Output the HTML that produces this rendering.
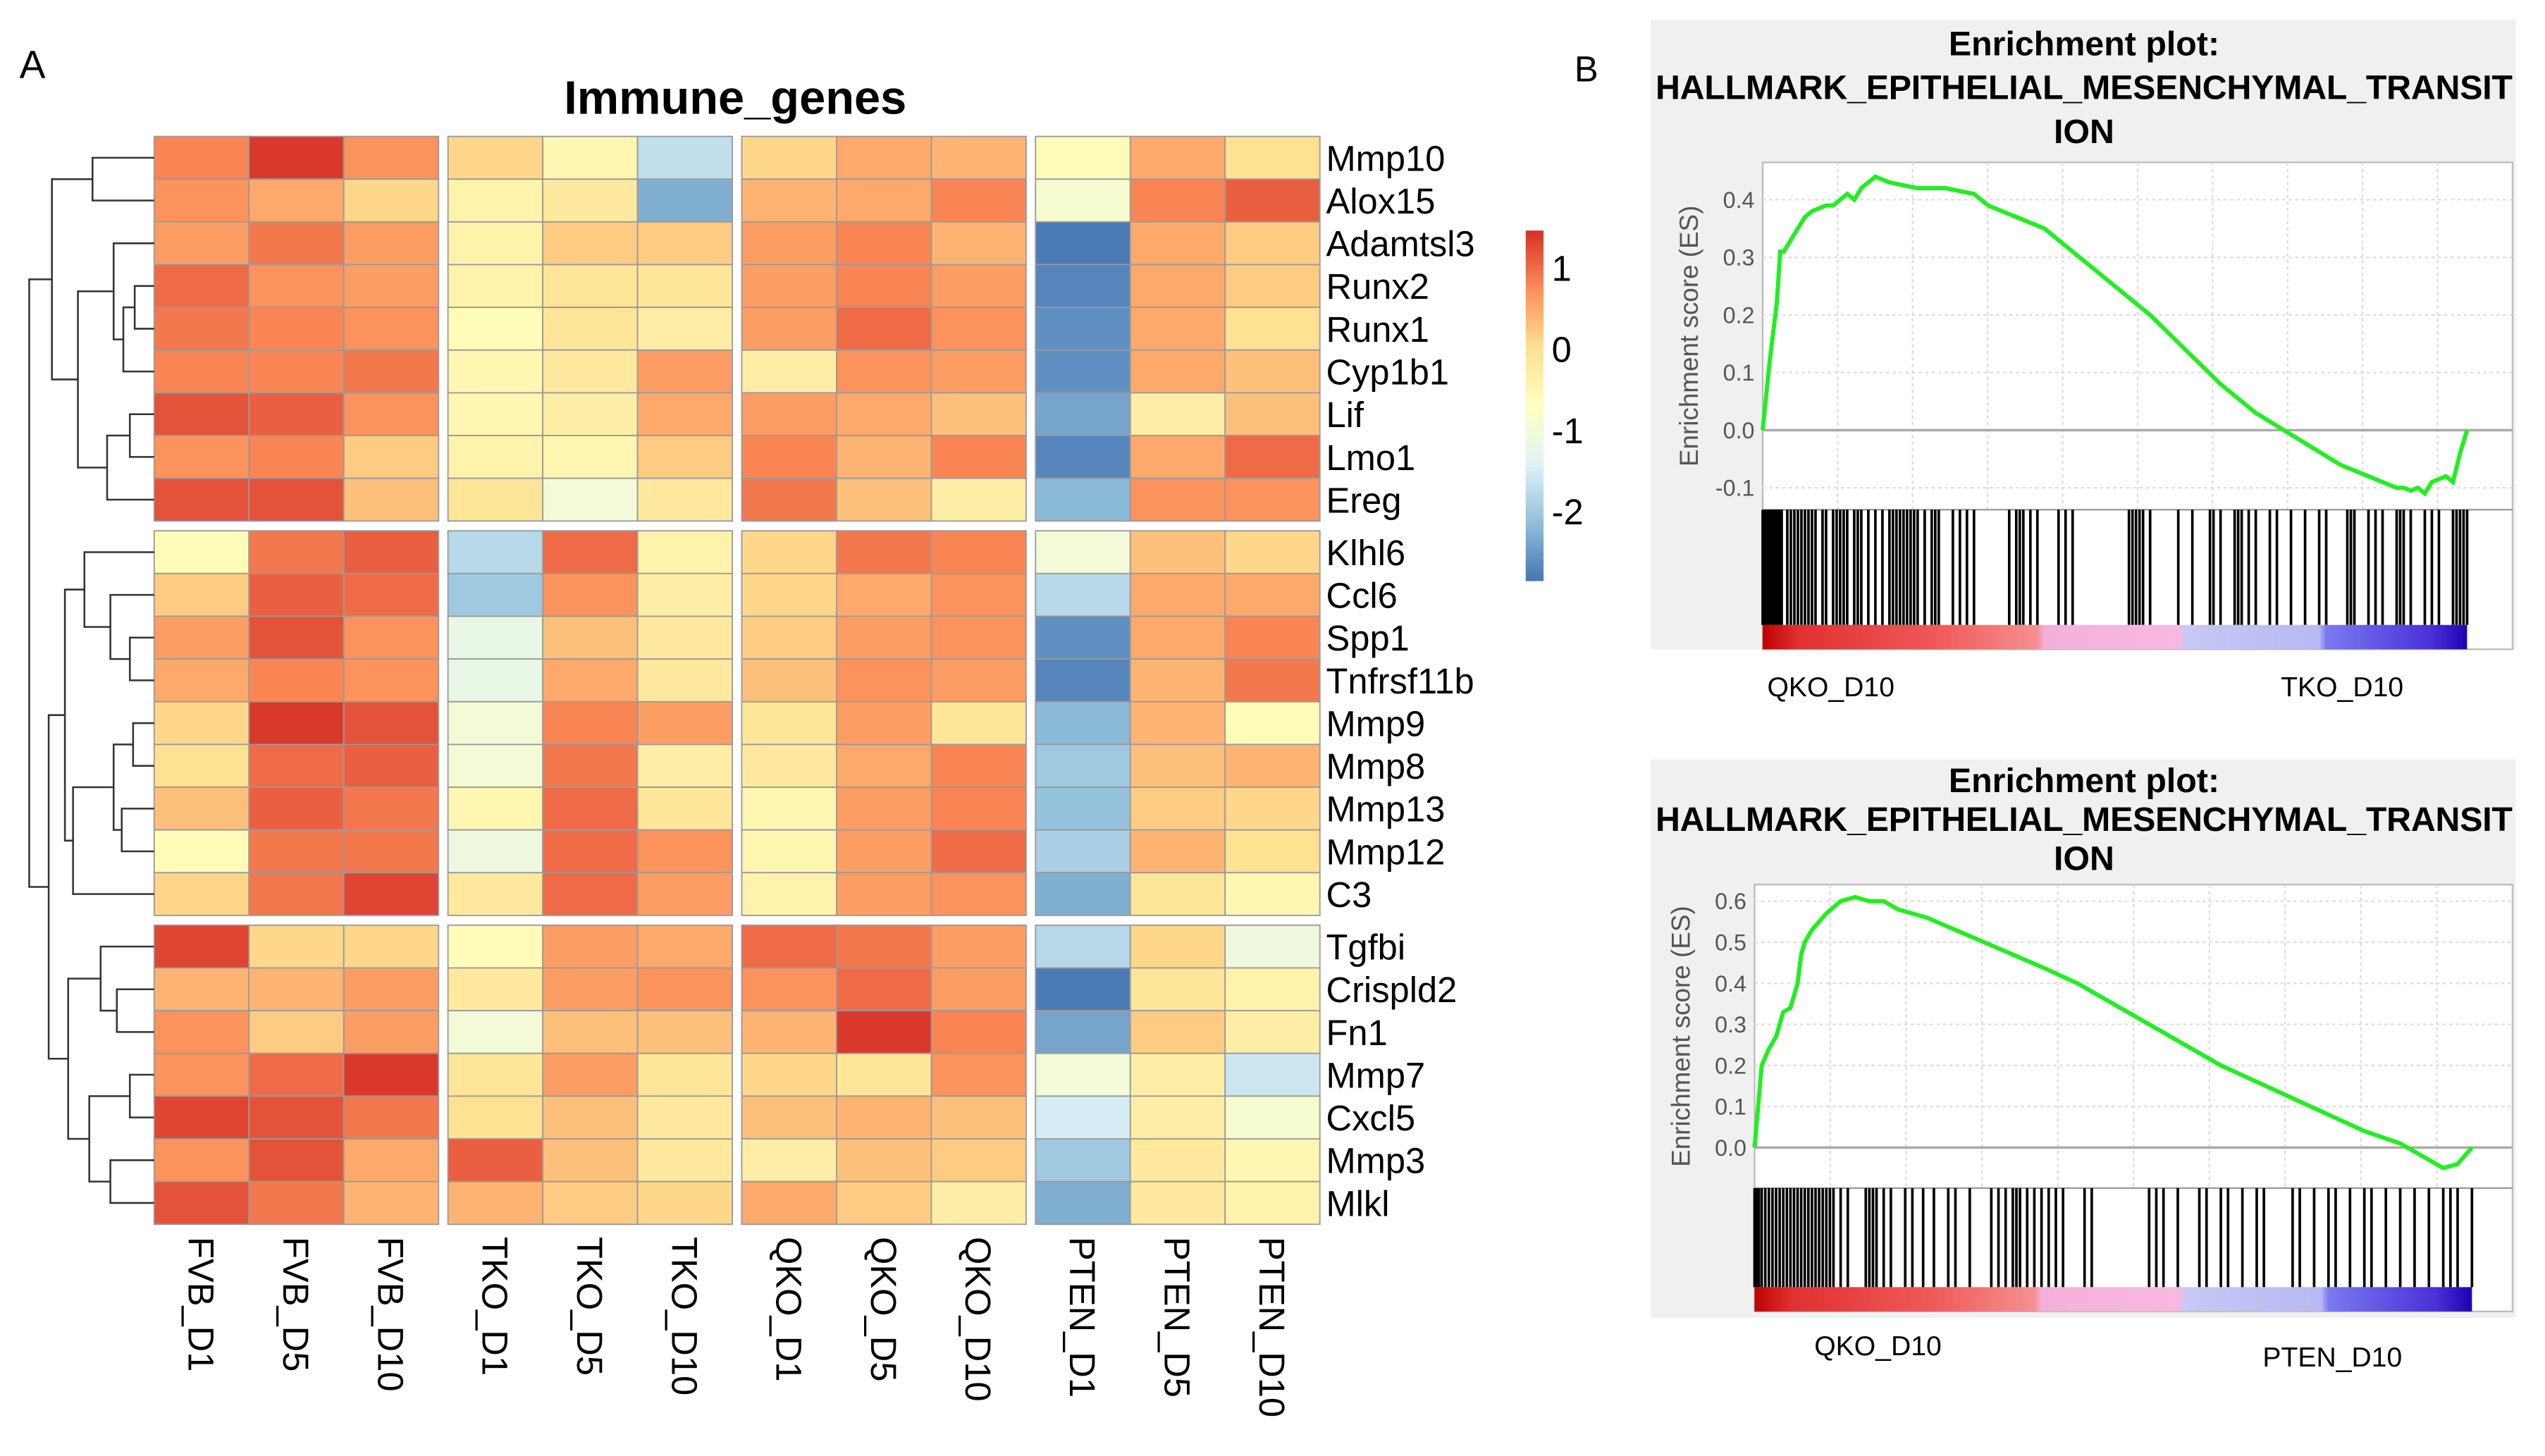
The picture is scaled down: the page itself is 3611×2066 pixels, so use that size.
<!DOCTYPE html>
<html><head><meta charset="utf-8"><style>
html,body{margin:0;padding:0;background:#fff}
svg{display:block;font-family:"Liberation Sans",sans-serif}
</style></head><body>
<svg id="fig" width="3611" height="2066" viewBox="0 0 1568 897" xmlns="http://www.w3.org/2000/svg">
<rect x="0" y="0" width="1568" height="897" fill="#fff"/>
<text x="12" y="48" font-size="24">A</text>
<text x="970" y="50" font-size="22">B</text>
<text x="453" y="70" font-size="29" font-weight="bold" text-anchor="middle">Immune_genes</text>
<g id="heat"></g>
<g id="dendro"></g>
<g id="legend"></g>
<g id="gsea1"></g>
<g id="gsea2"></g>
</svg>
<script>
const genes=["Mmp10","Alox15","Adamtsl3","Runx2","Runx1","Cyp1b1","Lif","Lmo1","Ereg","Klhl6","Ccl6","Spp1","Tnfrsf11b","Mmp9","Mmp8","Mmp13","Mmp12","C3","Tgfbi","Crispld2","Fn1","Mmp7","Cxcl5","Mmp3","Mlkl"];
const samples=["FVB_D1","FVB_D5","FVB_D10","TKO_D1","TKO_D5","TKO_D10","QKO_D1","QKO_D5","QKO_D10","PTEN_D1","PTEN_D5","PTEN_D10"];
const values=[
[0.8,1.4,0.7,0.1,-0.5,-1.7,0.1,0.5,0.4,-0.6,0.5,0.0],
[0.7,0.5,0.1,-0.4,-0.2,-2.3,0.4,0.5,0.8,-0.9,0.8,1.1],
[0.6,0.9,0.6,-0.4,0.2,0.2,0.6,0.8,0.4,-2.8,0.5,0.2],
[1.0,0.7,0.6,-0.4,-0.1,-0.1,0.6,0.8,0.6,-2.7,0.5,0.2],
[0.9,0.8,0.7,-0.6,-0.1,-0.3,0.6,1.0,0.7,-2.6,0.5,0.0],
[0.8,0.8,0.9,-0.5,-0.2,0.6,-0.3,0.7,0.6,-2.6,0.5,0.3],
[1.2,1.1,0.7,-0.5,-0.3,0.5,0.6,0.5,0.3,-2.4,-0.3,0.3],
[0.7,0.8,0.2,-0.4,-0.5,0.2,0.8,0.4,0.8,-2.7,0.5,1.0],
[1.2,1.2,0.3,-0.1,-1.0,-0.2,0.9,0.3,-0.3,-2.2,0.7,0.7],
[-0.6,0.9,1.1,-1.8,1.0,-0.4,0.1,0.9,0.8,-1.0,0.3,0.1],
[0.2,1.1,1.0,-2.0,0.7,-0.3,0.1,0.5,0.7,-1.8,0.5,0.5],
[0.6,1.2,0.7,-1.2,0.3,-0.2,0.2,0.6,0.7,-2.6,0.5,0.8],
[0.5,0.8,0.7,-1.2,0.5,-0.2,0.3,0.7,0.6,-2.7,0.4,0.9],
[0.1,1.4,1.2,-1.0,0.8,0.6,-0.1,0.6,-0.1,-2.2,0.4,-0.6],
[0.0,1.0,1.1,-1.0,0.9,-0.3,-0.2,0.5,0.8,-2.0,0.3,0.4],
[0.3,1.1,0.9,-0.5,1.0,-0.1,-0.5,0.6,0.8,-2.1,0.2,0.1],
[-0.6,0.9,0.9,-1.1,1.0,0.7,-0.5,0.6,1.0,-1.9,0.4,0.0],
[0.1,0.9,1.3,-0.2,1.0,0.6,-0.4,0.6,0.7,-2.3,-0.1,-0.5],
[1.3,0.1,0.1,-0.6,0.6,0.5,1.0,0.9,0.6,-1.8,0.1,-1.1],
[0.4,0.4,0.6,-0.2,0.6,0.7,0.7,1.0,0.6,-2.8,-0.1,-0.4],
[0.7,0.2,0.6,-1.0,0.3,0.3,0.4,1.4,0.8,-2.4,0.2,-0.3],
[0.7,1.0,1.4,-0.1,0.6,-0.1,0.1,-0.1,0.7,-1.0,-0.3,-1.6],
[1.3,1.2,0.9,0.0,0.3,-0.2,0.3,0.4,0.3,-1.5,-0.3,-0.9],
[0.7,1.2,0.5,1.1,0.3,-0.2,-0.3,0.3,0.2,-2.0,-0.2,-0.5],
[1.2,0.9,0.4,0.4,0.2,0.1,0.5,0.2,-0.3,-2.3,-0.2,-0.4]];
const legendTicks=[1,0,-1,-2];
const es1X=[0,0.01,0.02,0.025,0.03,0.04,0.05,0.06,0.07,0.09,0.1,0.12,0.13,0.14,0.15,0.16,0.18,0.2,0.22,0.24,0.26,0.28,0.3,0.32,0.34,0.36,0.4,0.45,0.5,0.55,0.6,0.65,0.7,0.74,0.78,0.82,0.84,0.86,0.88,0.9,0.91,0.92,0.93,0.94,0.95,0.96,0.97,0.98,0.99,1.0];
const es1Y=[0,0.12,0.22,0.31,0.31,0.33,0.35,0.37,0.38,0.39,0.39,0.41,0.4,0.42,0.43,0.44,0.43,0.425,0.42,0.42,0.42,0.415,0.41,0.39,0.38,0.37,0.35,0.3,0.25,0.2,0.14,0.08,0.03,0.0,-0.03,-0.06,-0.07,-0.08,-0.09,-0.1,-0.1,-0.105,-0.1,-0.11,-0.09,-0.085,-0.08,-0.09,-0.04,0.0];
const hits1=[0,0.003,0.006,0.009,0.012,0.015,0.018,0.021,0.024,0.027,0.035,0.04,0.045,0.05,0.055,0.06,0.065,0.07,0.075,0.085,0.09,0.1,0.105,0.11,0.115,0.12,0.13,0.135,0.14,0.15,0.16,0.17,0.18,0.185,0.19,0.195,0.2,0.205,0.21,0.215,0.22,0.23,0.24,0.245,0.25,0.27,0.28,0.29,0.3,0.35,0.36,0.365,0.37,0.38,0.39,0.42,0.43,0.44,0.52,0.525,0.53,0.535,0.54,0.55,0.59,0.61,0.635,0.64,0.65,0.67,0.675,0.68,0.69,0.7,0.72,0.73,0.75,0.77,0.79,0.8,0.83,0.835,0.84,0.86,0.87,0.88,0.9,0.905,0.91,0.92,0.94,0.95,0.96,0.98,0.985,0.99,0.995,1.0];
const es2X=[0,0.005,0.01,0.02,0.03,0.04,0.05,0.06,0.065,0.07,0.08,0.1,0.12,0.14,0.16,0.18,0.2,0.24,0.28,0.32,0.36,0.4,0.45,0.5,0.55,0.6,0.65,0.7,0.75,0.8,0.85,0.9,0.93,0.96,0.98,1.0];
const es2Y=[0,0.1,0.2,0.24,0.27,0.33,0.34,0.4,0.47,0.5,0.53,0.57,0.6,0.61,0.6,0.6,0.58,0.56,0.53,0.5,0.47,0.44,0.4,0.35,0.3,0.25,0.2,0.16,0.12,0.08,0.04,0.01,-0.02,-0.05,-0.04,0.0];
const hits2=[0,0.003,0.006,0.01,0.015,0.02,0.025,0.03,0.035,0.04,0.045,0.05,0.055,0.06,0.065,0.07,0.075,0.08,0.085,0.09,0.095,0.1,0.105,0.11,0.12,0.13,0.155,0.16,0.165,0.17,0.18,0.19,0.21,0.22,0.235,0.25,0.27,0.28,0.3,0.33,0.34,0.35,0.36,0.365,0.37,0.38,0.39,0.4,0.41,0.42,0.43,0.46,0.47,0.55,0.56,0.57,0.59,0.62,0.63,0.65,0.66,0.68,0.7,0.71,0.75,0.76,0.78,0.8,0.81,0.83,0.85,0.86,0.88,0.9,0.92,0.94,0.96,0.97,0.98,1.0];
const NS="http://www.w3.org/2000/svg";
function mk(p,t,a){const e=document.createElementNS(NS,t);for(const k in a)e.setAttribute(k,a[k]);p.appendChild(e);return e;}
const stops=["#4575B4","#91BFDB","#E0F3F8","#FFFFBF","#FEE090","#FC8D59","#D73027"];
const vmin=-2.86,vmax=1.46;
function hex(h){return [1,3,5].map(i=>parseInt(h.substr(i,2),16));}
function col(v){let t=(v-vmin)/(vmax-vmin)*6;t=Math.max(0,Math.min(5.999,t));const i=Math.floor(t),f=t-i;const a=hex(stops[i]),b=hex(stops[i+1]);return "rgb("+a.map((c,k)=>Math.round(c+(b[k]-c)*f)).join(",")+")";}
const colBlockStart=[95,276,457,638],cw=58.4;
const rowGroupStart=[84,327,570],rh=26.33;
function colX(j){return colBlockStart[Math.floor(j/3)]+(j%3)*cw;}
function rowY(i){const g=i<9?0:(i<18?1:2);const off=g==0?i:(g==1?i-9:i-18);return rowGroupStart[g]+off*rh;}
const heat=document.getElementById('heat');
values.forEach((row,i)=>{row.forEach((v,j)=>{
 const r=mk(heat,'rect',{x:colX(j),y:rowY(i),width:cw,height:rh,fill:col(v),stroke:'#9a9a9a','stroke-width':0.8});
 
 
});
 const t=mk(heat,'text',{x:817,y:rowY(i)+rh/2+8,'font-size':22});
 
 
 t.textContent=genes[i];
});
samples.forEach((s,j)=>{
 const cx=colX(j)+cw/2-8;
 const t=mk(heat,'text',{x:0,y:0,'font-size':22,transform:'translate('+cx+',762) rotate(90)'});
 
 
 t.textContent=s;
});
const tree=[18,[32,[57,0,1],[48,[70,2,[76,[83,3,4],5]],[66,[80,6,7],8]]],[30,[40,[52,9,[68,10,[80,11,12]]],[45,[70,[82,13,14],[75,15,16]],17]],[42,[62,18,[72,19,20]],[55,[80,21,22],[68,23,24]]]]];
const dg=document.getElementById('dendro');
function draw(n){if(typeof n==='number')return {x:95,y:rowY(n)+rh/2};
 const a=draw(n[1]),b=draw(n[2]),x=n[0];
 const p=mk(dg,'path',{d:`M${a.x},${a.y}H${x}V${b.y}H${b.x}`,fill:'none',stroke:'#333','stroke-width':1.1});
 
 
 return {x:x,y:(a.y+b.y)/2};}
draw(tree);
const lg=document.getElementById('legend');
const defs=mk(document.getElementById('fig'),'defs',{});
const gr=mk(defs,'linearGradient',{id:'lgrad',x1:0,y1:1,x2:0,y2:0});
stops.forEach((c,i)=>mk(gr,'stop',{offset:i/6,'stop-color':c}));
const ly=v=>142+(vmax-v)/(vmax-vmin)*216;
const lr=mk(lg,'rect',{x:940,y:142,width:11,height:216,fill:'url(#lgrad)'});


legendTicks.forEach(v=>{const t=mk(lg,'text',{x:956,y:ly(v)+8,'font-size':22});
 
 
 t.textContent=v;});
function gsea(gid,o,ex,ey,hits,leftLab,rightLab){
 const g=document.getElementById(gid);
 const bg=mk(g,'rect',{x:1017,y:o.top,width:533,height:o.bgH,fill:'#f0f0f0'});
 
 ["Enrichment plot:","HALLMARK_EPITHELIAL_MESENCHYMAL_TRANSIT","ION"].forEach((s,i)=>{
  const t=mk(g,'text',{x:1284,y:o.top+o.t0+i*o.tl,'font-size':21,'font-weight':'bold','text-anchor':'middle',textLength:i==1?528:null});
  if(i!=1)t.removeAttribute('textLength');
  t.textContent=s;});
 const X=f=>o.x0+f*(o.x1-o.x0), Y=v=>o.zeroY-v*o.py;
 const fr=mk(g,'rect',{x:o.x0,y:o.fTop,width:1548-o.x0,height:o.cbB-o.fTop,fill:'#fff',stroke:'#bbb','stroke-width':1});
 
 for(let k=1;k<10;k++){const gx=o.x0+k*(1548-o.x0)/10;mk(g,'line',{x1:gx,x2:gx,y1:o.fTop,y2:o.hTop,stroke:'#ddd','stroke-dasharray':'2,2'});}
 o.ticks.forEach(v=>{
  mk(g,'line',{x1:o.x0,x2:1548,y1:Y(v),y2:Y(v),stroke:v===0?'#aaa':'#ddd','stroke-width':v===0?1.5:1,'stroke-dasharray':v===0?'':'2,2'});
  const t=mk(g,'text',{x:o.x0-5,y:Y(v)+5,'font-size':14,fill:'#555','text-anchor':'end'});
  t.textContent=v.toFixed(1);});
 const yl=mk(g,'text',{x:0,y:0,'font-size':16,fill:'#555','text-anchor':'middle',transform:`translate(${o.x0-40},${(o.fTop+o.hTop)/2}) rotate(-90)`});
 yl.textContent='Enrichment score (ES)';
 mk(g,'line',{x1:o.x0,x2:1548,y1:o.hTop,y2:o.hTop,stroke:'#999'});
 const ln=mk(g,'polyline',{points:ex.map((f,i)=>X(f)+','+Y(ey[i])).join(' '),fill:'none',stroke:'#22ee22','stroke-width':2.6});
 
 hits.forEach(f=>{const l=mk(g,'line',{x1:X(f),x2:X(f),y1:o.hTop,y2:o.cbT,stroke:'#000','stroke-width':1.6});
  });
 const gd=mk(defs,'linearGradient',{id:gid+'g',x1:0,y1:0,x2:1,y2:0});
 [[0,'#c00000'],[0.05,'#e03030'],[0.25,'#f05a5a'],[0.39,'#f59090'],[0.4,'#f4b0d8'],[0.59,'#f8b8e0'],[0.6,'#c8c8f4'],[0.79,'#b8b8f4'],[0.8,'#7a7af0'],[0.95,'#4a30d8'],[1,'#2000b0']].forEach(s=>mk(gd,'stop',{offset:s[0],'stop-color':s[1]}));
 const cb=mk(g,'rect',{x:o.x0,y:o.cbT,width:o.x1-o.x0,height:o.cbB-o.cbT,fill:`url(#${gid}g)`});
 
 const a=mk(g,'text',{x:o.lx,y:o.ly,'font-size':17,'text-anchor':'middle'});
 a.textContent=leftLab;
 const b=mk(g,'text',{x:o.rx,y:o.ry,'font-size':17,'text-anchor':'middle'});
 b.textContent=rightLab;
}
gsea('gsea1',{top:12,bgH:388,t0:22,tl:27,x0:1086,x1:1520,zeroY:265,py:355,fTop:100,hTop:314,cbT:385,cbB:400,ticks:[-0.1,0,0.1,0.2,0.3,0.4],lx:1128,ly:429,rx:1443,ry:429},es1X,es1Y,hits1,'QKO_D10','TKO_D10');
gsea('gsea2',{top:468,bgH:344,t0:20,tl:24,x0:1081,x1:1523,zeroY:707,py:253,fTop:545,hTop:732,cbT:793,cbB:808,ticks:[0,0.1,0.2,0.3,0.4,0.5,0.6],lx:1157,ly:835,rx:1437,ry:842},es2X,es2Y,hits2,'QKO_D10','PTEN_D10');
</script>
</body></html>
